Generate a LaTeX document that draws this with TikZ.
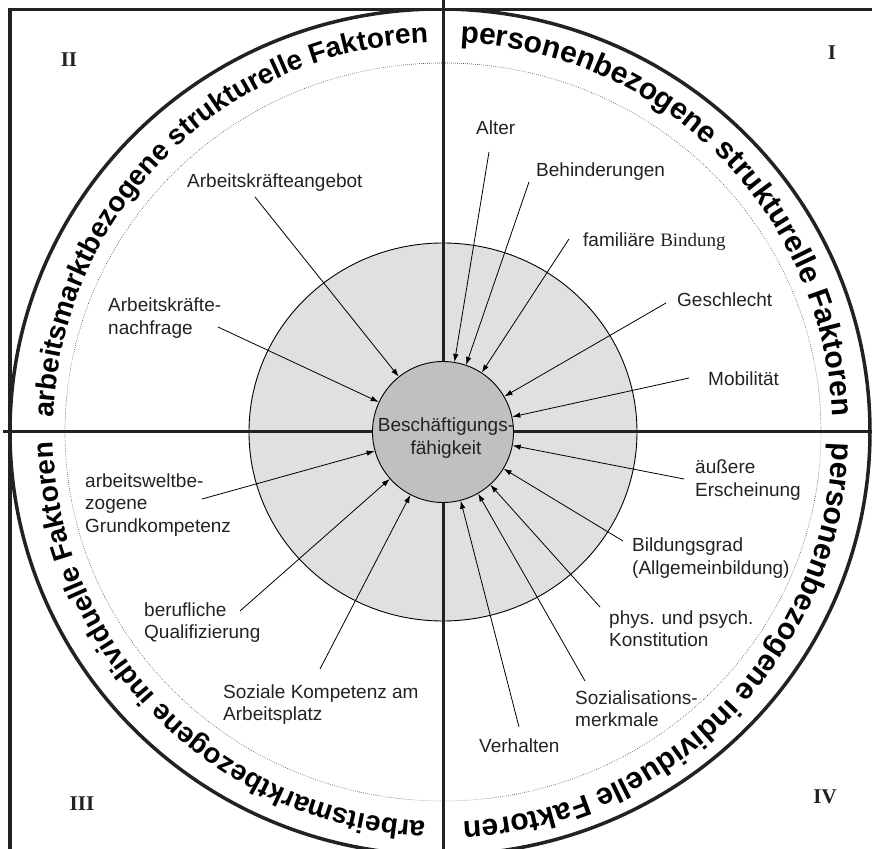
\documentclass[tikz,border=0pt]{standalone}
\usepackage{fontspec}
\setmainfont{Liberation Sans}
\newfontfamily\serifnum{Liberation Serif}
\newfontfamily\ringfont{Liberation Sans Bold}
\usetikzlibrary{arrows.meta,decorations.text}

\definecolor{ringgray}{RGB}{224,224,226}
\definecolor{coregray}{RGB}{192,192,195}
\definecolor{ink}{RGB}{34,34,34}

\newcommand{\lblsize}{\fontsize{19}{22.5}\selectfont}
\newcommand{\ringbig}{\fontsize{30}{30}\selectfont\ringfont}
\newcommand{\ringsmall}{\fontsize{28}{28}\selectfont\ringfont}
\newcommand{\numsize}{\fontsize{21}{21}\selectfont\serifnum\bfseries}

\begin{document}
\begin{tikzpicture}[x=1pt,y=1pt]

  \clip (-443,-416) rectangle (429,432);

  % rings
  \filldraw[fill=ringgray,draw=black,line width=0.9pt] (0,0) ellipse [x radius=194pt, y radius=189pt];
  \draw[black!75,line width=0.6pt,dash pattern=on 0.6pt off 1.4pt] (0,0) ellipse [x radius=378pt, y radius=369pt];

  % quadrants and frame
  \draw[ink,line width=3pt] (0,440) -- (0,-440);
  \draw[ink,line width=3pt] (-440,0) -- (440,0);
  \draw[ink,line width=3.5pt] (-433,-440) rectangle (440,422.5);
  \begin{scope}
    \clip (-433,-440) rectangle (440,422.5);
    \draw[ink,line width=3.5pt] (-3,0) ellipse [x radius=430pt, y radius=423pt];
  \end{scope}

  % centre
  \node[circle,draw=black,fill=coregray,line width=0.9pt,minimum size=141pt,inner sep=0pt] (bf) at (0,0) {};
  \node[text=ink,align=center,font=\lblsize] (bftext) at (3,-6) {Beschäftigungs-\\fähigkeit};

  % ring texts
  \path[decorate,decoration={text along path,text align={fit to path},
      text={|\ringbig|personenbezogene strukturelle Faktoren}}]
    (87.5:390pt) arc[start angle=87.5,end angle=2.5,radius=390pt];
  \path[decorate,decoration={text along path,text align={fit to path},
      text={|\ringsmall|arbeitsmarktbezogene strukturelle Faktoren}}]
    (177.9:390pt) arc[start angle=177.9,end angle=92.6,radius=390pt];
  \path[decorate,decoration={text along path,text align={fit to path},
      text={|\ringsmall|arbeitsmarktbezogene individuelle Faktoren}}]
    (267.4:390pt) arc[start angle=267.4,end angle=181.6,radius=390pt];
  \path[decorate,decoration={text along path,text align={fit to path},
      text={|\ringbig|personenbezogene individuelle Faktoren}}]
    (358.4:390pt) arc[start angle=358.4,end angle=273.7,radius=390pt];

  % quadrant numbers
  \begin{scope}[every node/.style={font=\numsize,text=ink,anchor=base}]
    \node (q1) at (389,372)   {I};
    \node (q2) at (-374,365)  {II};
    \node (q3) at (-361,-378) {III};
    \node (q4) at (382,-371)  {IV};
  \end{scope}

  % factors (base = last line)
  \begin{scope}[every node/.style={font=\lblsize,text=ink,anchor=base west,align=left,inner sep=0pt}]
    \node (angebot)   at (-256,244)    {Arbeitskräfteangebot};
    \node (nachfrage) at (-335,97.5)   {Arbeitskräfte-\\nachfrage};
    \node (alter)     at (33,297)      {Alter};
    \node (behind)    at (93,255)      {Behinderungen};
    \node (bindung)   at (140,185)     {familiäre {\serifnum Bindung}};
    \node (geschl)    at (234,125)     {Geschlecht};
    \node (mobil)     at (265,46)      {Mobilität};
    \node (aeussere)  at (252,-64)     {äußere\\Erscheinung};
    \node (bildung)   at (189,-142)    {Bildungsgrad\\(Allgemeinbildung)};
    \node (konst)     at (166,-214.5)  {phys. und psych.\\Konstitution};
    \node (sozial)    at (132,-294.5)  {Sozialisations-\\merkmale};
    \node (verhalten) at (36,-320)     {Verhalten};
    \node (grundk)    at (-358,-100)   {arbeitsweltbe-\\zogene\\Grundkompetenz};
    \node (beruf)     at (-299,-206.5) {berufliche\\Qualifizierung};
    \node (sozkomp)   at (-220,-288.5) {Soziale Kompetenz am\\Arbeitsplatz};
  \end{scope}

  % arrow starts
  \coordinate (s-angebot)   at (-188,235);
  \coordinate (s-nachfrage) at (-225,105);
  \coordinate (s-alter)     at (46,280);
  \coordinate (s-behind)    at (86,250);
  \coordinate (s-bindung)   at (126,193);
  \coordinate (s-geschl)    at (223,129);
  \coordinate (s-mobil)     at (246,54);
  \coordinate (s-aeussere)  at (241,-47);
  \coordinate (s-bildung)   at (180,-109);
  \coordinate (s-konst)     at (157,-175);
  \coordinate (s-sozial)    at (142,-249);
  \coordinate (s-verhalten) at (76,-295);
  \coordinate (s-grundk)    at (-241,-67);
  \coordinate (s-beruf)     at (-203,-179);
  \coordinate (s-sozkomp)   at (-123,-237);

  \begin{scope}[every edge/.style={draw,black,line width=0.8pt,-{Latex[length=8pt,width=5.5pt]}}]
    \path (s-angebot)   edge (bf);
    \path (s-nachfrage) edge (bf);
    \path (s-alter)     edge (bf);
    \path (s-behind)    edge (bf);
    \path (s-bindung)   edge (bf);
    \path (s-geschl)    edge (bf);
    \path (s-mobil)     edge (bf);
    \path (s-aeussere)  edge (bf);
    \path (s-bildung)   edge (bf);
    \path (s-konst)     edge (bf);
    \path (s-sozial)    edge (bf);
    \path (s-verhalten) edge (bf);
    \path (s-grundk)    edge (bf);
    \path (s-beruf)     edge (bf);
    \path (s-sozkomp)   edge (bf);
  \end{scope}

\end{tikzpicture}
\end{document}
